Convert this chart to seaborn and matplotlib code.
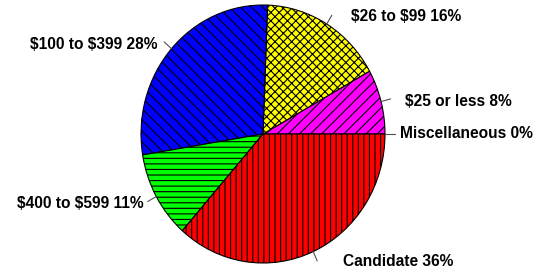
import numpy as np
import matplotlib
matplotlib.use("Agg")
import matplotlib.pyplot as plt
import seaborn as sns

# data (counter-clockwise from 3 o'clock)
categories = ["Miscellaneous", "$25 or less", "$26 to $99", "$100 to $399", "$400 to $599", "Candidate"]
shares = [0.0, 8.1, 16.3, 28.2, 10.9, 36.5]
pct_labels = ["0%", "8%", "16%", "28%", "11%", "36%"]

# style
colors = ["#808080", "#FF00FF", "#FFFF00", "#0000FF", "#00FF00", "#FF0000"]
hatches = ["", "///", "xxxx", "\\\\\\", "---", "|||"]
# label anchor (data coords, pie radius = 1) and alignment
text_pos = [(1.12, 0.0, "left"), (1.165, 0.25, "left"), (0.72, 0.91, "left"),
            (-0.865, 0.69, "right"), (-0.975, -0.535, "right"), (0.655, -0.99, "left")]

sns.set_theme(style="white")
plt.rcParams["font.family"] = ["Liberation Sans", "DejaVu Sans"]
plt.rcParams["hatch.linewidth"] = 0.8
plt.rcParams["hatch.color"] = "black"

fig = plt.figure(figsize=(5.49, 2.74), dpi=100)
ax = fig.add_axes([141 / 549, 11 / 274, 244 / 549, 258 / 274])

wedges, _ = ax.pie(shares, colors=colors, startangle=0, counterclock=True,
                   radius=1, wedgeprops=dict(edgecolor="black", linewidth=0.8))
for w, h, v in zip(wedges, hatches, shares):
    w.set_hatch(h)
    if v == 0:
        w.set_visible(False)

ax.set_aspect("auto")
ax.set_xlim(-1, 1)
ax.set_ylim(-1, 1)
ax.axis("off")

cum = np.cumsum([0] + shares)
tot = cum[-1]
for i, (cat, pct) in enumerate(zip(categories, pct_labels)):
    mid = np.deg2rad((cum[i] + cum[i + 1]) / 2 / tot * 360)
    c, s = np.cos(mid), np.sin(mid)
    ax.plot([c, 1.08 * c], [s, 1.08 * s], color="#505050", lw=0.8, clip_on=False)
    tx, ty, ha = text_pos[i]
    ax.text(tx, ty, f"{cat} {pct}", ha=ha, va="center", fontsize=11.2,
            fontweight="bold", color="black", clip_on=False, parse_math=False)

fig.savefig("out.png", dpi=100)
